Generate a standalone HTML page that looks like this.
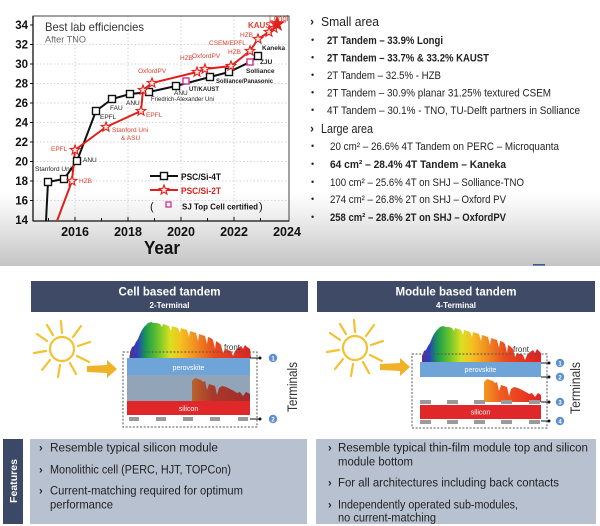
<!DOCTYPE html>
<html><head><meta charset="utf-8"><style>
html,body{margin:0;padding:0;background:#fff;}
svg{display:block;}
text{font-family:"Liberation Sans",Arial,sans-serif;}
</style></head><body>
<svg width="600" height="526" viewBox="0 0 600 526" xmlns="http://www.w3.org/2000/svg">
<defs>
<linearGradient id="bg" x1="0" y1="0" x2="0" y2="1">
<stop offset="0" stop-color="#ffffff"/><stop offset="0.72" stop-color="#ffffff"/><stop offset="0.8" stop-color="#f1f1f1"/><stop offset="1" stop-color="#c4c4c4"/>
</linearGradient>
<linearGradient id="rainbow" x1="0" y1="0" x2="1" y2="0">
<stop offset="0" stop-color="#5a2a9a"/><stop offset="0.06" stop-color="#2a3fc0"/><stop offset="0.13" stop-color="#1a9a50"/><stop offset="0.22" stop-color="#60c030"/><stop offset="0.33" stop-color="#d8e020"/><stop offset="0.42" stop-color="#f5c020"/><stop offset="0.55" stop-color="#f08a20"/><stop offset="0.7" stop-color="#e84a20"/><stop offset="1" stop-color="#e02020"/>
</linearGradient>
<linearGradient id="midL" x1="0" y1="0" x2="1" y2="0">
<stop offset="0" stop-color="#b8642c"/><stop offset="0.35" stop-color="#a83a2a"/><stop offset="1" stop-color="#a02a2c"/>
</linearGradient>
<linearGradient id="midR" x1="0" y1="0" x2="1" y2="0">
<stop offset="0" stop-color="#f39a22"/><stop offset="0.3" stop-color="#ee5a22"/><stop offset="1" stop-color="#e42222"/>
</linearGradient>
<path id="star" d="M0,-5L1.23,-1.7L4.76,-1.55L2,0.65L2.94,4.05L0,2.1L-2.94,4.05L-2,0.65L-4.76,-1.55L-1.23,-1.7Z"/>
</defs>

<rect x="0" y="0" width="600" height="266" fill="url(#bg)"/>
<rect x="533" y="264" width="12" height="1.6" fill="#3a5a9a"/>

<!-- chart -->
<g stroke="#c8c8c8" stroke-width="0.8" stroke-dasharray="1.5,2">
<line x1="33" y1="44.5" x2="289" y2="44.5"/><line x1="33" y1="64" x2="289" y2="64"/><line x1="33" y1="83.5" x2="289" y2="83.5"/><line x1="33" y1="103" x2="289" y2="103"/><line x1="33" y1="122.5" x2="289" y2="122.5"/><line x1="33" y1="142" x2="289" y2="142"/><line x1="33" y1="161.5" x2="289" y2="161.5"/><line x1="33" y1="181" x2="289" y2="181"/><line x1="33" y1="200.5" x2="289" y2="200.5"/>
<line x1="75" y1="16" x2="75" y2="221"/><line x1="128" y1="16" x2="128" y2="221"/><line x1="181" y1="16" x2="181" y2="221"/><line x1="234" y1="16" x2="234" y2="221"/>
</g>
<rect x="33" y="16" width="256" height="205" fill="none" stroke="#444" stroke-width="1"/>
<line x1="33" y1="16" x2="33" y2="221" stroke="#111" stroke-width="1.3"/>
<line x1="33" y1="221" x2="289" y2="221" stroke="#111" stroke-width="1.3"/>
<g stroke="#111" stroke-width="1">
<line x1="30" y1="25" x2="33" y2="25"/><line x1="30" y1="44.5" x2="33" y2="44.5"/><line x1="30" y1="64" x2="33" y2="64"/><line x1="30" y1="83.5" x2="33" y2="83.5"/><line x1="30" y1="103" x2="33" y2="103"/><line x1="30" y1="122.5" x2="33" y2="122.5"/><line x1="30" y1="142" x2="33" y2="142"/><line x1="30" y1="161.5" x2="33" y2="161.5"/><line x1="30" y1="181" x2="33" y2="181"/><line x1="30" y1="200.5" x2="33" y2="200.5"/>
<line x1="48.5" y1="221" x2="48.5" y2="218"/><line x1="75" y1="221" x2="75" y2="217"/><line x1="101.5" y1="221" x2="101.5" y2="218"/><line x1="128" y1="221" x2="128" y2="217"/><line x1="154.5" y1="221" x2="154.5" y2="218"/><line x1="181" y1="221" x2="181" y2="217"/><line x1="207.5" y1="221" x2="207.5" y2="218"/><line x1="234" y1="221" x2="234" y2="217"/><line x1="260.5" y1="221" x2="260.5" y2="218"/>
</g>
<g font-size="11.5" font-weight="bold" fill="#111" text-anchor="end">
<text x="28" y="29">34</text><text x="28" y="48.5">32</text><text x="28" y="68">30</text><text x="28" y="87.5">28</text><text x="28" y="107">26</text><text x="28" y="126.5">24</text><text x="28" y="146">22</text><text x="28" y="165.5">20</text><text x="28" y="185">18</text><text x="28" y="204.5">16</text><text x="28" y="224">14</text>
</g>
<g font-size="12.5" font-weight="bold" fill="#111" text-anchor="middle">
<text x="75" y="236">2016</text><text x="128" y="236">2018</text><text x="181" y="236">2020</text><text x="234" y="236">2022</text><text x="287" y="236">2024</text>
</g>
<text x="162" y="254" font-size="18" font-weight="bold" fill="#111" text-anchor="middle" textLength="36" lengthAdjust="spacingAndGlyphs">Year</text>

<text x="45" y="31" font-size="12" fill="#333" textLength="99" lengthAdjust="spacingAndGlyphs">Best lab efficiencies</text>
<text x="45" y="42.5" font-size="9.5" fill="#666" textLength="41" lengthAdjust="spacingAndGlyphs">After TNO</text>

<polyline points="46,221 48,182 64,179 77,161 96,111 112,99 130,94 149,92 176,86 210,77 229,72 250,62 258,56" fill="none" stroke="#111" stroke-width="2"/>
<polyline points="57,221 72,181 75,150 106,127 141,111 143,90 152,83 197,72 205,69 231,66 250,51 258,39 269,32 274,28 277,24" fill="none" stroke="#e0201c" stroke-width="2"/>
<g fill="#fff" stroke="#111" stroke-width="1.4">
<rect x="44.5" y="178.5" width="7" height="7"/><rect x="60.5" y="175.5" width="7" height="7"/><rect x="73.5" y="157.5" width="7" height="7"/><rect x="92.5" y="107.5" width="7" height="7"/><rect x="108.5" y="95.5" width="7" height="7"/><rect x="126.5" y="90.5" width="7" height="7"/><rect x="145.5" y="88.5" width="7" height="7"/><rect x="172.5" y="82.5" width="7" height="7"/><rect x="206.5" y="73.5" width="7" height="7"/><rect x="225.5" y="68.5" width="7" height="7"/><rect x="254.5" y="52.5" width="7" height="7"/>
</g>
<g fill="#fff" stroke="#d0308a" stroke-width="1.4">
<rect x="183" y="78" width="6" height="6"/><rect x="247" y="59" width="6" height="6"/>
</g>
<g fill="#fde8e0" stroke="#e0201c" stroke-width="1.1">
<use href="#star" x="72" y="181"/><use href="#star" x="75" y="150"/><use href="#star" x="106" y="127"/><use href="#star" x="141" y="111"/><use href="#star" x="143" y="90"/><use href="#star" x="152" y="83"/><use href="#star" x="197" y="72"/><use href="#star" x="205" y="69"/><use href="#star" x="231" y="66"/><use href="#star" x="250" y="51"/><use href="#star" x="258" y="39"/><use href="#star" x="269" y="32"/><use href="#star" x="274" y="28"/>
</g>
<use href="#star" x="0" y="0" transform="translate(277,24) scale(1.4)" fill="#e0201c" stroke="#e0201c" stroke-width="0.8"/>

<g font-size="6.5" fill="#222">
<text x="35" y="171">Stanford Uni.</text>
<text x="83" y="162">ANU</text>
<text x="100" y="119">EPFL</text>
<text x="110" y="110">FAU</text>
<text x="126" y="105">ANU</text>
<text x="151" y="101" textLength="63" lengthAdjust="spacingAndGlyphs">Friedrich-Alexander Uni</text>
<text x="174" y="95">ANU</text>
<text x="189" y="91" font-weight="bold" textLength="30" lengthAdjust="spacingAndGlyphs">UT/KAUST</text>
<text x="216" y="83" font-weight="bold" textLength="57" lengthAdjust="spacingAndGlyphs">Solliance/Panasonic</text>
<text x="246" y="73" font-weight="bold">Solliance</text>
<text x="260" y="64" font-weight="bold">ZJU</text>
<text x="262" y="50" font-weight="bold">Kaneka</text>
</g>
<g font-size="6.5" fill="#e0402c">
<text x="79" y="183">HZB</text>
<text x="51" y="151">EPFL</text>
<text x="112" y="132">Stanford Uni</text>
<text x="121" y="140">&amp; ASU</text>
<text x="146" y="117">EPFL</text>
<text x="138" y="73">OxfordPV</text>
<text x="180" y="60">HZB</text>
<text x="192" y="58">OxfordPV</text>
<text x="228" y="54">HZB</text>
<text x="209" y="45">CSEM/EPFL</text>
<text x="240" y="37">HZB</text>
<text x="248" y="28" font-weight="bold" font-size="8">KAUST</text>
<text x="269" y="21" font-size="8">Longi</text>
</g>

<line x1="150" y1="176" x2="178" y2="176" stroke="#111" stroke-width="2"/>
<rect x="160.5" y="172.5" width="7" height="7" fill="#fff" stroke="#111" stroke-width="1.4"/>
<text x="181" y="180" font-size="9.5" font-weight="bold" fill="#111" textLength="40" lengthAdjust="spacingAndGlyphs">PSC/Si-4T</text>
<line x1="150" y1="190" x2="178" y2="190" stroke="#e0201c" stroke-width="2"/>
<use href="#star" x="164" y="190" fill="#fde8e0" stroke="#e0201c" stroke-width="1.1"/>
<text x="181" y="194" font-size="9.5" font-weight="bold" fill="#e0201c" textLength="40" lengthAdjust="spacingAndGlyphs">PSC/Si-2T</text>
<text x="150" y="210" font-size="11" fill="#111">(</text>
<rect x="166" y="202" width="5" height="5" fill="#fff" stroke="#d0308a" stroke-width="1.3"/>
<text x="182" y="209.5" font-size="8.5" font-weight="bold" fill="#111" textLength="76" lengthAdjust="spacingAndGlyphs">SJ Top Cell certified</text>
<text x="259" y="210" font-size="11" fill="#111">)</text>

<!-- right list -->
<g fill="#222">
<text x="310" y="25.5" font-size="12" font-weight="bold">›</text>
<text x="321" y="26" font-size="13" textLength="58" lengthAdjust="spacingAndGlyphs">Small area</text>
<g font-size="9">
<text x="311" y="43">•</text><text x="311" y="60.5">•</text><text x="311" y="78">•</text><text x="311" y="95.5">•</text><text x="311" y="113">•</text>
<text x="311" y="149">•</text><text x="311" y="167">•</text><text x="311" y="185">•</text><text x="311" y="202">•</text><text x="311" y="220">•</text>
</g>
<g font-size="11">
<text x="327" y="44" font-weight="bold" textLength="116" lengthAdjust="spacingAndGlyphs">2T Tandem – 33.9% Longi</text>
<text x="327" y="61.5" font-weight="bold" textLength="162" lengthAdjust="spacingAndGlyphs">2T Tandem – 33.7% &amp; 33.2% KAUST</text>
<text x="327" y="79" textLength="114" lengthAdjust="spacingAndGlyphs">2T Tandem – 32.5% - HZB</text>
<text x="327" y="96.5" textLength="224" lengthAdjust="spacingAndGlyphs">2T Tandem – 30.9% planar 31.25% textured CSEM</text>
<text x="327" y="114" textLength="253" lengthAdjust="spacingAndGlyphs">4T Tandem – 30.1% - TNO, TU-Delft partners in Solliance</text>
<text x="330" y="150" textLength="229" lengthAdjust="spacingAndGlyphs">20 cm² – 26.6% 4T Tandem on PERC – Microquanta</text>
<text x="330" y="168" font-weight="bold" textLength="176" lengthAdjust="spacingAndGlyphs">64 cm² – 28.4% 4T Tandem – Kaneka</text>
<text x="330" y="186" textLength="194" lengthAdjust="spacingAndGlyphs">100 cm² – 25.6% 4T on SHJ – Solliance-TNO</text>
<text x="330" y="203" textLength="176" lengthAdjust="spacingAndGlyphs">274 cm² – 26.8% 2T on SHJ – Oxford PV</text>
<text x="330" y="221" font-weight="bold" textLength="176" lengthAdjust="spacingAndGlyphs">258 cm² – 28.6% 2T on SHJ – OxfordPV</text>
</g>
<text x="310" y="132.5" font-size="12" font-weight="bold">›</text>
<text x="321" y="133" font-size="13" textLength="52" lengthAdjust="spacingAndGlyphs">Large area</text>
</g>

<!-- bottom section -->
<rect x="31" y="281" width="277" height="31" fill="#3e4a66"/>
<rect x="317" y="281" width="278" height="31" fill="#3e4a66"/>
<text x="169.5" y="295.5" font-size="12" font-weight="bold" fill="#fff" text-anchor="middle" textLength="102" lengthAdjust="spacingAndGlyphs">Cell based tandem</text>
<text x="169.5" y="308" font-size="8" font-weight="bold" fill="#fff" text-anchor="middle" textLength="40" lengthAdjust="spacingAndGlyphs">2-Terminal</text>
<text x="456" y="295.5" font-size="12" font-weight="bold" fill="#fff" text-anchor="middle" textLength="121" lengthAdjust="spacingAndGlyphs">Module based tandem</text>
<text x="456" y="308" font-size="8" font-weight="bold" fill="#fff" text-anchor="middle" textLength="40" lengthAdjust="spacingAndGlyphs">4-Terminal</text>

<g stroke="#f3c232" stroke-width="2.2" stroke-linecap="round" fill="none">
<circle cx="62" cy="349" r="12"/>
<line x1="62" y1="333" x2="61" y2="321"/><line x1="73" y1="337" x2="81" y2="326"/><line x1="78" y1="346" x2="90" y2="342"/><line x1="77" y1="356" x2="89" y2="362"/><line x1="70" y1="363" x2="76" y2="374"/><line x1="60" y1="365" x2="58" y2="377"/><line x1="50" y1="360" x2="42" y2="370"/><line x1="46" y1="351" x2="34" y2="353"/><line x1="47" y1="341" x2="37" y2="334"/><line x1="53" y1="335" x2="47" y2="325"/>
<circle cx="355" cy="348" r="12"/>
<line x1="355" y1="332" x2="354" y2="320"/><line x1="366" y1="336" x2="374" y2="325"/><line x1="371" y1="345" x2="383" y2="341"/><line x1="370" y1="355" x2="382" y2="361"/><line x1="363" y1="362" x2="369" y2="373"/><line x1="353" y1="364" x2="351" y2="376"/><line x1="343" y1="359" x2="335" y2="369"/><line x1="339" y1="350" x2="327" y2="352"/><line x1="340" y1="340" x2="330" y2="333"/><line x1="346" y1="334" x2="340" y2="324"/>
</g>
<polygon points="87,366 107,365 107,360 117,369 107,378 107,373 87,372" fill="#f0b226"/>
<polygon points="380,364 400,363 400,358 410,367 400,376 400,371 380,370" fill="#f0b226"/>

<!-- left cell -->
<g>
<rect x="127" y="375" width="123" height="26" fill="#92a4b7"/>
<polygon fill="url(#midL)" points="192,401 192,381 195,378 198,379 201,380 203,382 205,381 207,390 209,384 212,385 215,386 217,395 219,388 222,386 226,387 230,389 234,391 237,393 240,392 243,396 246,392 250,394 250,401"/>
<rect x="127" y="358" width="123" height="17" fill="#6fa4d8"/>
<rect x="127" y="401" width="123" height="14" fill="#e0282a"/>
<g fill="#9a9a9a">
<rect x="129" y="355" width="10" height="3"/><rect x="156" y="355" width="10" height="3"/><rect x="183" y="355" width="10" height="3"/><rect x="210" y="355" width="10" height="3"/><rect x="238" y="355" width="10" height="3"/>
<rect x="129" y="417" width="10" height="4"/><rect x="156" y="417" width="10" height="4"/><rect x="183" y="417" width="10" height="4"/><rect x="210" y="417" width="10" height="4"/><rect x="238" y="417" width="10" height="4"/>
</g>
<polygon fill="url(#rainbow)" points="130,358 130,352 132,347 134,346 136,342 138,339 140,334 142,330 144,327 146,325 148,323 151,322 154,323 157,323 160,324 162,327 163,324 166,325 169,326 171,331 172,326 175,327 178,328 180,333 181,328 184,329 187,330 189,337 190,331 193,332 196,333 198,341 199,334 202,335 205,336 207,344 208,337 211,338 213,340 215,349 216,341 219,343 221,345 223,353 225,349 228,350 231,351 233,356 235,351 238,348 241,346 243,349 245,345 247,347 250,349 251,358"/>
<text x="188.5" y="370" font-size="7" fill="#fff" text-anchor="middle">perovskite</text>
<text x="188.5" y="411" font-size="7" fill="#fff" text-anchor="middle">silicon</text>
<text x="224" y="350" font-size="8" fill="#333">front</text>
<rect x="123" y="352" width="134" height="75" fill="none" stroke="#555" stroke-width="1" stroke-dasharray="2,1.6"/>
<line x1="250" y1="358" x2="260" y2="358" stroke="#111" stroke-width="1"/><circle cx="260" cy="358" r="1.5" fill="#111"/>
<line x1="250" y1="419" x2="260" y2="419" stroke="#111" stroke-width="1"/><circle cx="260" cy="419" r="1.5" fill="#111"/>
<circle cx="273" cy="358" r="4.2" fill="#5e8fd0"/><text x="273" y="360.3" font-size="6" font-weight="bold" fill="#fff" text-anchor="middle">1</text>
<circle cx="273" cy="419" r="4.2" fill="#5e8fd0"/><text x="273" y="421.3" font-size="6" font-weight="bold" fill="#fff" text-anchor="middle">2</text>
<text transform="translate(297,387) rotate(-90)" font-size="13.5" fill="#333" text-anchor="middle" textLength="50" lengthAdjust="spacingAndGlyphs">Terminals</text>
</g>

<!-- right module -->
<g>
<polygon fill="url(#midR)" points="484,402 484,382 487,379 490,380 493,381 495,383 497,382 499,391 501,385 504,386 507,387 509,396 511,389 514,387 518,388 522,390 526,392 529,394 532,393 535,397 538,393 541,395 541,402"/>
<rect x="420" y="362" width="121" height="15" fill="#6fa4d8"/>
<rect x="420" y="405" width="121" height="14" fill="#e0282a"/>
<g fill="#9a9a9a">
<rect x="420" y="400" width="11" height="4"/><rect x="447" y="400" width="11" height="4"/><rect x="474" y="400" width="11" height="4"/><rect x="501" y="400" width="11" height="4"/><rect x="529" y="400" width="11" height="4"/>
<rect x="420" y="420" width="11" height="4"/><rect x="447" y="420" width="11" height="4"/><rect x="474" y="420" width="11" height="4"/><rect x="501" y="420" width="11" height="4"/><rect x="529" y="420" width="11" height="4"/>
</g>
<g transform="translate(292,4)">
<polygon fill="url(#rainbow)" points="130,358 130,352 132,347 134,346 136,342 138,339 140,334 142,330 144,327 146,325 148,323 151,322 154,323 157,323 160,324 162,327 163,324 166,325 169,326 171,331 172,326 175,327 178,328 180,333 181,328 184,329 187,330 189,337 190,331 193,332 196,333 198,341 199,334 202,335 205,336 207,344 208,337 211,338 213,340 215,349 216,341 219,343 221,345 223,353 225,349 228,350 231,351 233,356 235,351 238,348 241,346 243,349 245,345 247,347 249,349 249,358"/>
</g>
<text x="480.5" y="372" font-size="7" fill="#fff" text-anchor="middle">perovskite</text>
<text x="480.5" y="414.5" font-size="7" fill="#fff" text-anchor="middle">silicon</text>
<text x="513" y="352" font-size="8" fill="#333">front</text>
<rect x="412" y="354" width="135" height="74" fill="none" stroke="#555" stroke-width="1" stroke-dasharray="2,1.6"/>
<g stroke="#111" stroke-width="1">
<line x1="541" y1="363" x2="549" y2="363"/><line x1="541" y1="377" x2="549" y2="377"/><line x1="541" y1="402" x2="549" y2="402"/><line x1="541" y1="421" x2="549" y2="421"/>
</g>
<g fill="#111"><circle cx="549" cy="363" r="1.5"/><circle cx="549" cy="377" r="1.5"/><circle cx="549" cy="402" r="1.5"/><circle cx="549" cy="421" r="1.5"/></g>
<g fill="#5e8fd0"><circle cx="560" cy="363" r="4.2"/><circle cx="560" cy="377" r="4.2"/><circle cx="560" cy="402" r="4.2"/><circle cx="560" cy="421" r="4.2"/></g>
<g font-size="6" font-weight="bold" fill="#fff" text-anchor="middle">
<text x="560" y="365.3">1</text><text x="560" y="379.3">2</text><text x="560" y="404.3">3</text><text x="560" y="423.3">4</text>
</g>
<text transform="translate(580,388) rotate(-90)" font-size="13.5" fill="#333" text-anchor="middle" textLength="52" lengthAdjust="spacingAndGlyphs">Terminals</text>
</g>

<!-- features -->
<rect x="3" y="439" width="20" height="85" fill="#3b4866"/>
<text transform="translate(17,481) rotate(-90)" font-size="10.5" font-weight="bold" fill="#fff" text-anchor="middle" textLength="44" lengthAdjust="spacingAndGlyphs">Features</text>
<rect x="30" y="439" width="277" height="85" fill="#b8c1d0"/>
<rect x="316" y="439" width="280" height="85" fill="#b8c1d0"/>
<g fill="#222" font-size="12.2">
<text x="39" y="451.5" font-weight="bold" font-size="11">›</text>
<text x="50" y="451.5" textLength="168" lengthAdjust="spacingAndGlyphs">Resemble typical silicon module</text>
<text x="39" y="473.5" font-weight="bold" font-size="11">›</text>
<text x="50" y="473.5" textLength="181" lengthAdjust="spacingAndGlyphs">Monolithic cell (PERC, HJT, TOPCon)</text>
<text x="39" y="494.5" font-weight="bold" font-size="11">›</text>
<text x="50" y="494.5" textLength="193" lengthAdjust="spacingAndGlyphs">Current-matching required for optimum</text>
<text x="50" y="508.5" textLength="63" lengthAdjust="spacingAndGlyphs">performance</text>

<text x="328" y="451.5" font-weight="bold" font-size="11">›</text>
<text x="338" y="451.5" textLength="250" lengthAdjust="spacingAndGlyphs">Resemble typical thin-film module top and silicon</text>
<text x="338" y="465.5" textLength="75" lengthAdjust="spacingAndGlyphs">module bottom</text>
<text x="328" y="486.5" font-weight="bold" font-size="11">›</text>
<text x="338" y="486.5" textLength="221" lengthAdjust="spacingAndGlyphs">For all architectures including back contacts</text>
<text x="328" y="508.5" font-weight="bold" font-size="11">›</text>
<text x="338" y="508.5" textLength="180" lengthAdjust="spacingAndGlyphs">Independently operated sub-modules,</text>
<text x="338" y="521.5" textLength="98" lengthAdjust="spacingAndGlyphs">no current-matching</text>
</g>
</svg>
</body></html>
